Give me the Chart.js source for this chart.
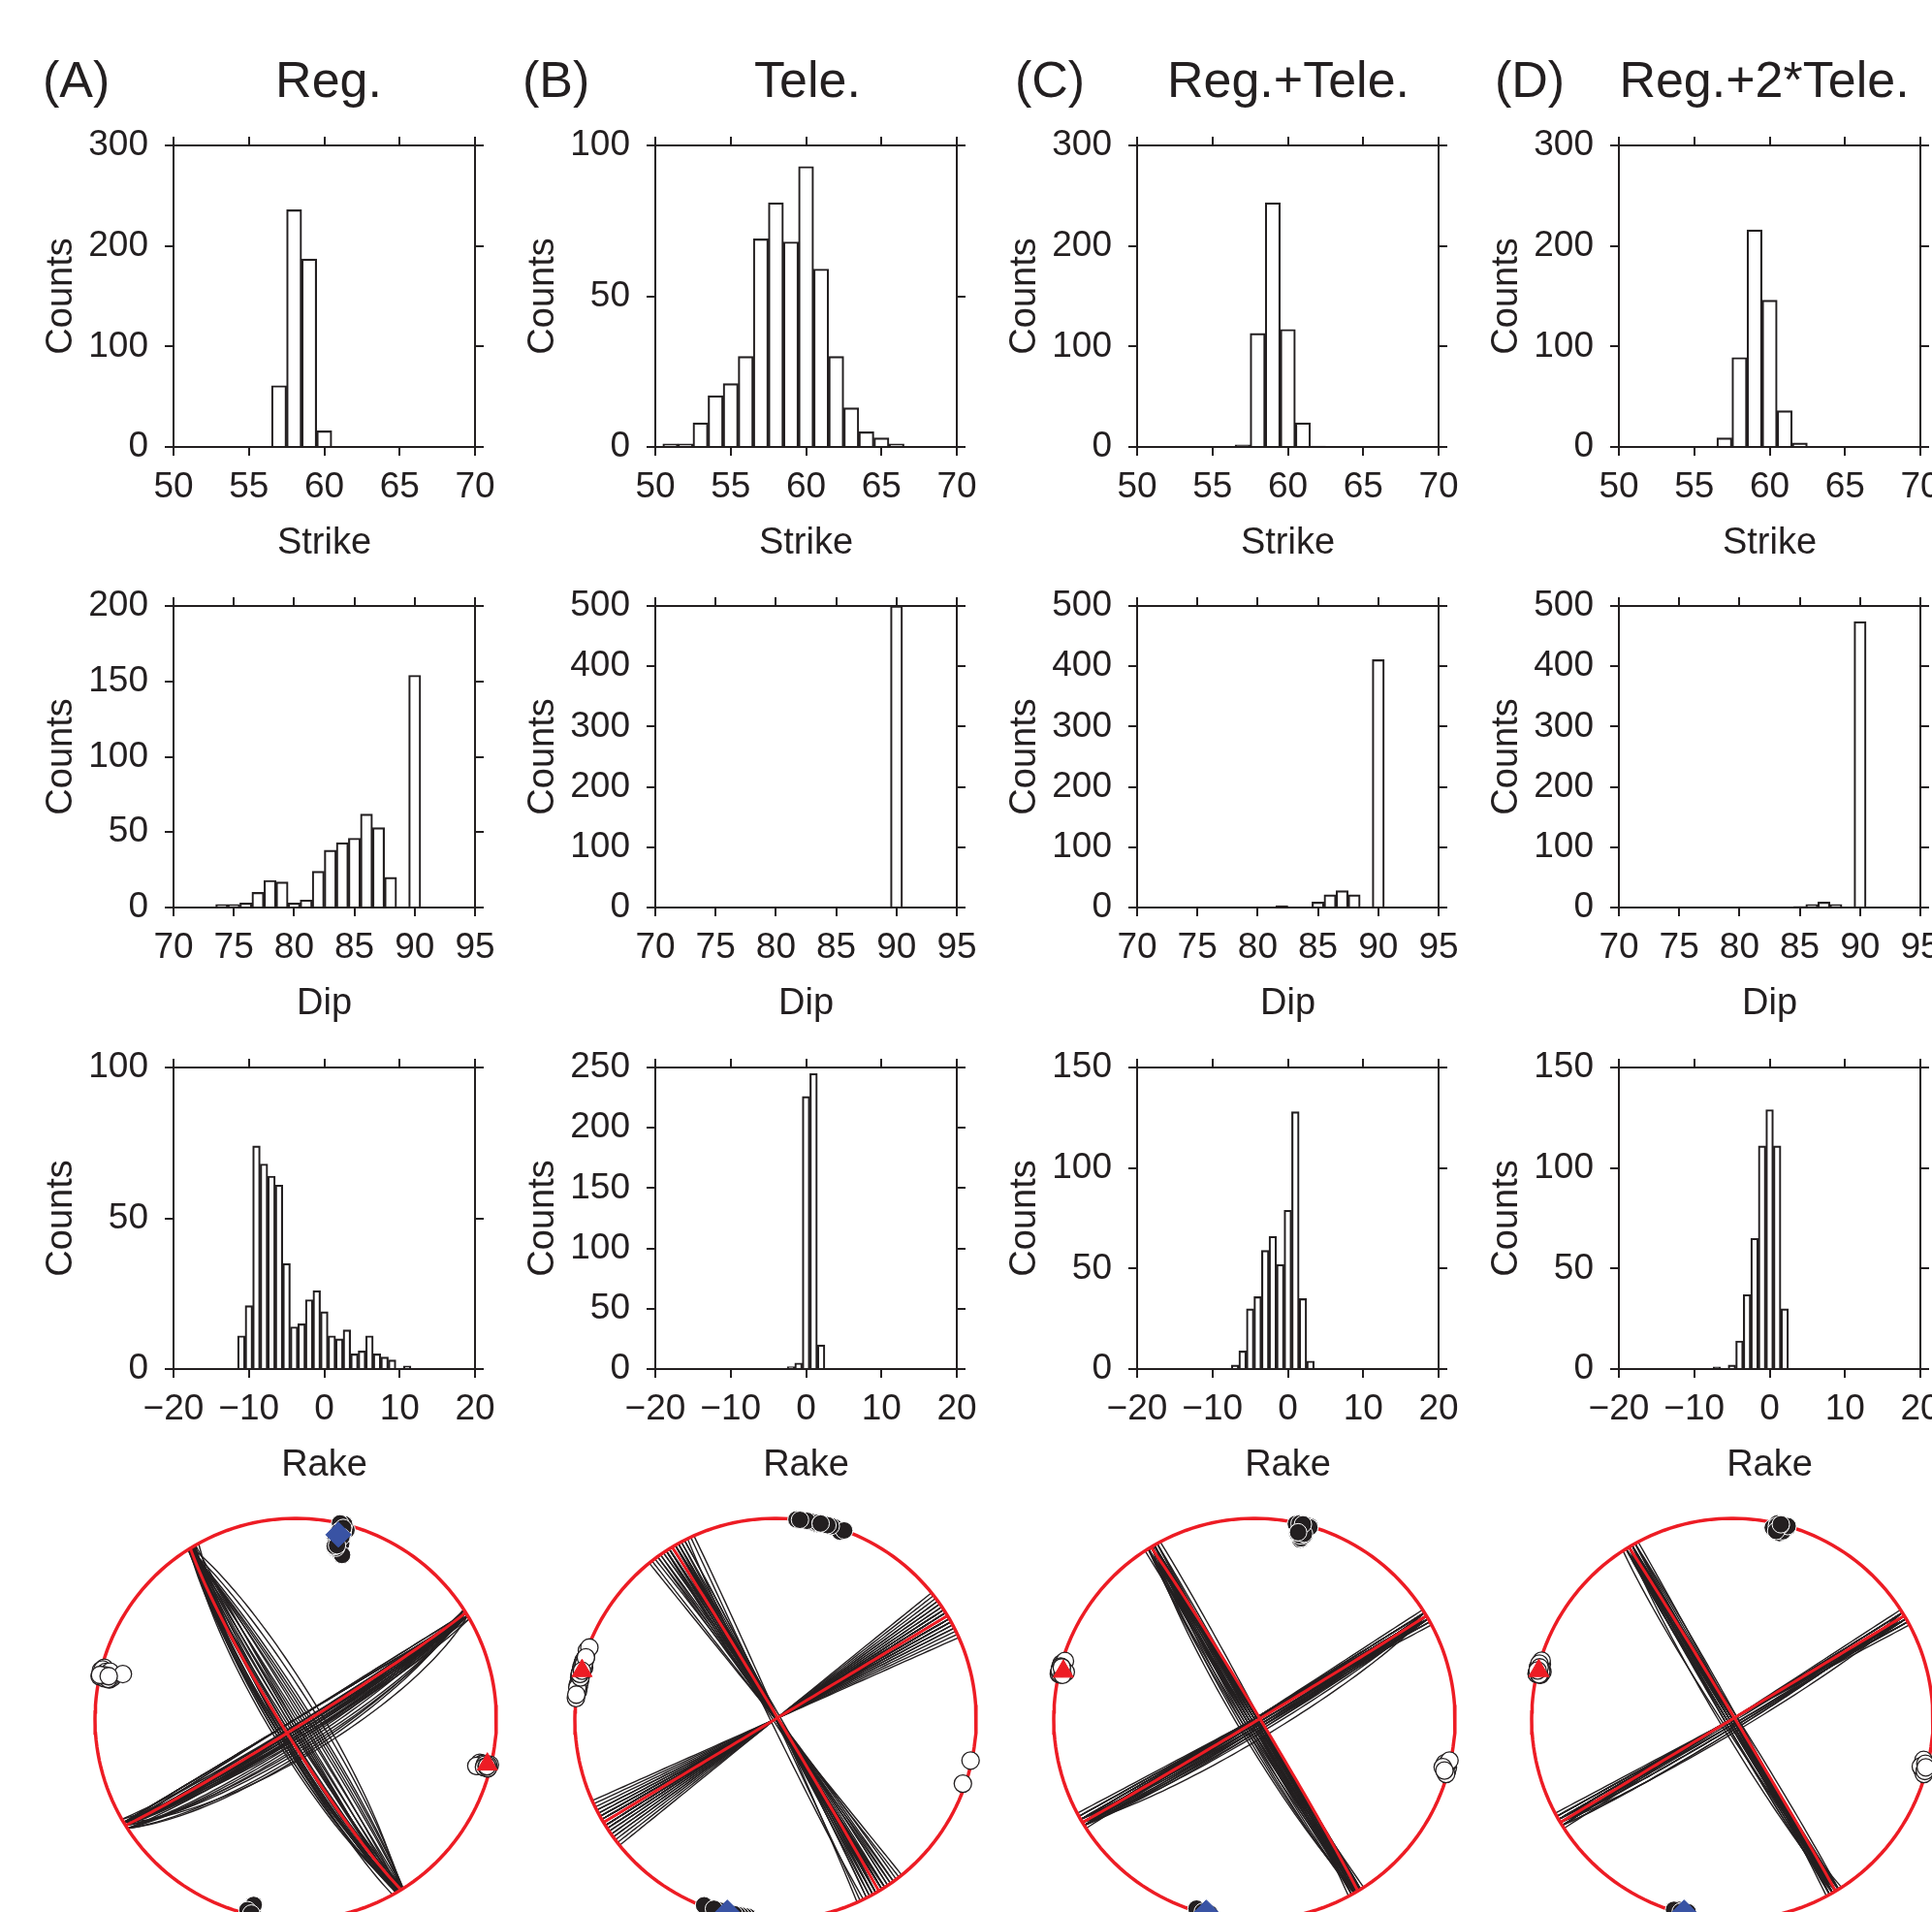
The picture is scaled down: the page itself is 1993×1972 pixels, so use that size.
<!DOCTYPE html>
<html>
<head>
<meta charset="utf-8">
<script src="https://cdn.jsdelivr.net/npm/chart.js@4.4.1/dist/chart.umd.min.js"></script>
<style>
  html, body { margin: 0; padding: 0; background: #fff; }
  #fig { position: relative; width: 1993px; height: 1972px; overflow: hidden; background: #fff;
         font-family: "Liberation Sans", Arial, Helvetica, sans-serif; color: #231f20; }
  #fig canvas { position: absolute; }
  .hdr { position: absolute; font-size: 52px; line-height: 1; white-space: nowrap; }
</style>
</head>
<body>
<div id="fig"></div>
<script>
// ---- histogram data (bin centres, counts) ----
const strikeBins = [51, 52, 53, 54, 55, 56, 57, 58, 59, 60, 61, 62, 63, 64, 65, 66];
const strikeReg      = [0, 0, 0, 0, 0, 0, 61, 236, 187, 16, 0, 0, 0, 0, 0, 0];
const strikeTele     = [1, 1, 8, 17, 21, 30, 69, 81, 68, 93, 59, 30, 13, 5, 3, 1];
const strikeRegTele  = [0, 0, 0, 0, 0, 0, 2, 113, 243, 117, 24, 1, 0, 0, 0, 0];
const strikeReg2Tele = [0, 0, 0, 0, 0, 0, 9, 89, 216, 146, 36, 4, 0, 0, 0, 0];

const dipBins = [74, 75, 76, 77, 78, 79, 80, 81, 82, 83, 84, 85, 86, 87, 88, 89, 90];
const dipReg      = [2, 2, 3, 10, 18, 17, 3, 5, 24, 38, 43, 46, 62, 53, 20, 0, 154];
const dipTele     = [0, 0, 0, 0, 0, 0, 0, 0, 0, 0, 0, 0, 0, 0, 0, 0, 500];
const dipRegTele  = [0, 0, 0, 0, 0, 0, 0, 0, 3, 1, 1, 9, 21, 28, 21, 0, 411];
const dipReg2Tele = [0, 0, 0, 0, 0, 0, 0, 0, 0, 0, 1, 2, 5, 9, 5, 0, 474];

const rakeBins = [-11, -10, -9, -8, -7, -6, -5, -4, -3, -2, -1, 0, 1, 2, 3, 4, 5, 6, 7, 8, 9, 10, 11];
const rakeReg      = [11, 21, 74, 68, 64, 61, 35, 14, 15, 23, 26, 19, 11, 10, 13, 5, 6, 11, 5, 4, 3, 0, 1];
const rakeTele     = [0, 0, 0, 0, 0, 0, 0, 0, 0, 2, 5, 226, 245, 20, 0, 0, 0, 0, 0, 0, 0, 0, 0];
const rakeRegTele  = [0, 0, 0, 0, 2, 9, 30, 36, 59, 66, 52, 79, 128, 35, 4, 0, 0, 0, 0, 0, 0, 0, 0];
const rakeReg2Tele = [0, 0, 0, 0, 1, 0, 2, 14, 37, 65, 111, 129, 111, 30, 0, 0, 0, 0, 0, 0, 0, 0, 0];

// y axis ranges [max, step]
const strikeY = [[300, 100], [100, 50], [300, 100], [300, 100]];
const dipY    = [[200, 50], [500, 100], [500, 100], [500, 100]];
const rakeY   = [[100, 50], [250, 50], [150, 50], [150, 50]];

// ---- focal mechanisms: best solution + sampled solutions ----
const bestStrike = [58, 59, 59, 59];
const bestDip    = [87, 90, 89, 90];
const bestRake   = [-6, 1, 2, 1];

const regStrikeS = [58,58,59,57,58,59,58,59,57,58,58,59,60,58,59,58,57,59,58,58,59,58,59,57,58,59,58,58,59,60,58,57,59,58,58,59,57,58,59,58];
const regDipS    = [90,86,85,84,88,83,87,90,82,86,78,85,87,79,90,84,76,83,86,88,90,85,82,80,87,84,90,86,75,83,86,77,88,85,84,90,81,87,86,83];
const regRakeS   = [-9,-8,-7,-6,-9,-5,-8,-10,-4,-3,-7,-2,-1,-9,0,1,-6,2,3,-8,-11,5,-7,-9,6,-2,8,-5,-8,10,-9,-6,-7,-1,-8,-3,-9,4,-6,-10];

const teleStrikeS = [51,53,54,55,56,57,57,58,58,59,59,60,60,60,61,61,62,62,63,64,65,66,55,57,58,59,60,61,56,54,57,58,59,60,60,61,52,63,58,59];
const teleDipS    = [90,90,90,90,90,90,90,90,90,90,90,90,90,90,90,90,90,90,90,90,90,90,90,90,90,90,90,90,90,90,90,90,90,90,90,90,90,90,90,90];
const teleRakeS   = [0,1,1,0,1,-1,0,1,0,1,0,1,0,2,1,0,1,0,1,-2,0,1,1,0,1,0,1,0,1,0,1,0,1,0,1,1,0,1,0,1];

const rtStrikeS = [58,59,59,60,58,59,60,61,59,58,59,60,59,58,60,59,61,59,58,60,59,57,59,60,62,59,58,60,59,59,58,60,59,61,58,59,60,59,58,60];
const rtDipS    = [90,90,90,90,86,90,87,90,88,90,85,90,90,87,90,86,90,88,90,90,84,90,87,90,90,82,90,86,90,88,90,87,90,90,86,90,88,90,85,90];
const rtRakeS   = [1,1,0,-1,-2,1,-3,0,1,-4,-2,1,-1,-5,0,-3,1,2,-2,1,-6,-1,0,1,2,-3,1,-4,1,-7,0,-2,1,-1,-3,1,-5,0,-2,1];

const r2tStrikeS = [59,59,60,58,59,60,59,61,58,60,59,59,60,58,61,59,60,59,57,60,62,59,58,60,59,59,61,58,60,59,60,59,58,59,60,61,59,58,60,59];
const r2tDipS    = [90,90,90,90,90,90,87,90,90,90,88,90,90,86,90,90,90,87,90,90,90,85,90,90,90,89,90,90,88,90,90,87,90,90,88,90,90,86,90,90];
const r2tRakeS   = [0,-1,1,0,-1,0,-2,1,-2,0,-3,1,0,-1,2,0,-1,1,-4,0,1,-2,0,-3,1,0,-1,2,0,-5,-1,0,-2,1,-3,0,-1,-2,1,0];

const panelTags   = ['(A)', '(B)', '(C)', '(D)'];
const panelTitles = ['Reg.', 'Tele.', 'Reg.+Tele.', 'Reg.+2*Tele.'];

// ---- layout ----
const ink = '#231f20', red = '#ed1c24', blue = '#3953a4';
const colLeft = [179, 676, 1173, 1670];
const rowTop = [150, 625, 1101];
const plotSize = 311;
const leftW = 179, rightW = 40, topH = 44, bottomH = 140;
const tagLeft = [44, 539, 1047, 1542];
const titleMid = [339, 833, 1329, 1820];
const ballX = [305, 800, 1294, 1787], ballY = 1773, ballR = 207;

Chart.defaults.font.family = '"Liberation Sans", Arial, Helvetica, sans-serif';
Chart.defaults.color = ink;

const fig = document.getElementById('fig');

panelTags.forEach((t, i) => {
  const a = document.createElement('div');
  a.className = 'hdr'; a.textContent = t;
  a.style.left = tagLeft[i] + 'px'; a.style.top = '56px';
  fig.appendChild(a);
  const b = document.createElement('div');
  b.className = 'hdr'; b.textContent = panelTitles[i];
  b.style.left = titleMid[i] + 'px'; b.style.top = '56px'; b.style.transform = 'translateX(-50%)';
  fig.appendChild(b);
});

const grid = () => ({ drawOnChartArea: false, drawTicks: true, tickLength: 9, color: ink, lineWidth: 2, offset: false });
const border = () => ({ display: true, color: ink, width: 2 });
const minus = v => String(v).replace('-', '\u2212');

function histogram(col, row, bins, counts, xr, yr, xTitle) {
  const cv = document.createElement('canvas');
  cv.width = leftW + plotSize + rightW;
  cv.height = topH + plotSize + bottomH;
  cv.style.left = (colLeft[col] - leftW) + 'px';
  cv.style.top = (rowTop[row] - topH) + 'px';
  fig.appendChild(cv);
  new Chart(cv, {
    type: 'bar',
    data: {
      datasets: [{
        data: bins.map((b, i) => ({ x: b, y: counts[i] })),
        backgroundColor: 'rgba(255,255,255,0)',
        borderColor: ink,
        borderWidth: 1.5,
        borderSkipped: 'start',
        barPercentage: 1,
        categoryPercentage: 1
      }]
    },
    options: {
      responsive: false, animation: false, devicePixelRatio: 1,
      layout: { padding: 0, autoPadding: false },
      plugins: { legend: { display: false }, tooltip: { enabled: false } },
      scales: {
        x: {
          type: 'linear', position: 'bottom', min: xr[0], max: xr[1], offset: false,
          ticks: { stepSize: xr[2], font: { size: 37 }, color: ink, padding: 11, maxRotation: 0, autoSkip: false, callback: minus },
          grid: grid(), border: border(),
          title: { display: true, text: xTitle, font: { size: 38 }, color: ink, padding: { top: 0, bottom: 18 } },
          afterFit: s => { s.height = bottomH; }
        },
        x2: {
          type: 'linear', position: 'top', min: xr[0], max: xr[1], offset: false,
          ticks: { stepSize: xr[2], display: false },
          grid: grid(), border: border(),
          afterFit: s => { s.height = topH; }
        },
        y: {
          type: 'linear', position: 'left', min: 0, max: yr[0],
          ticks: { stepSize: yr[1], font: { size: 37 }, color: ink, padding: 17 },
          grid: grid(), border: border(),
          title: { display: true, text: 'Counts', font: { size: 38 }, color: ink, padding: { top: 41, bottom: 0 } },
          afterFit: s => { s.width = leftW; }
        },
        y2: {
          type: 'linear', position: 'right', min: 0, max: yr[0],
          ticks: { stepSize: yr[1], display: false },
          grid: grid(), border: border(),
          afterFit: s => { s.width = rightW; }
        }
      }
    }
  });
}

const strikeSets = [strikeReg, strikeTele, strikeRegTele, strikeReg2Tele];
const dipSets = [dipReg, dipTele, dipRegTele, dipReg2Tele];
const rakeSets = [rakeReg, rakeTele, rakeRegTele, rakeReg2Tele];
for (let c = 0; c < 4; c++) {
  histogram(c, 0, strikeBins, strikeSets[c], [50, 70, 5], strikeY[c], 'Strike');
  histogram(c, 1, dipBins, dipSets[c], [70, 95, 5], dipY[c], 'Dip');
  histogram(c, 2, rakeBins, rakeSets[c], [-20, 20, 10], rakeY[c], 'Rake');
}

// ---- beach balls (lower hemisphere, equal area) ----
const DEG = Math.PI / 180;
function proj(v) {
  if (v[2] < 0) v = v.map(a => -a);
  const p = Math.asin(Math.min(1, v[2]));
  const az = Math.atan2(v[1], v[0]);
  const r = Math.SQRT2 * Math.sin((Math.PI / 2 - p) / 2);
  return { x: r * Math.sin(az), y: r * Math.cos(az) };
}
function planeTrace(str, dip) {
  const f = str * DEG, d = dip * DEG;
  const s = [Math.cos(f), Math.sin(f), 0];
  const dv = [-Math.cos(d) * Math.sin(f), Math.cos(d) * Math.cos(f), Math.sin(d)];
  const pts = [];
  for (let t = 0; t <= 180; t += 3) {
    const c = Math.cos(t * DEG), sn = Math.sin(t * DEG);
    pts.push(proj([c * s[0] + sn * dv[0], c * s[1] + sn * dv[1], c * s[2] + sn * dv[2]]));
  }
  return pts;
}
function mechanism(str, dip, rake) {
  const f = str * DEG, d = dip * DEG, l = rake * DEG;
  const n = [-Math.sin(d) * Math.sin(f), Math.sin(d) * Math.cos(f), -Math.cos(d)];
  const u = [Math.cos(l) * Math.cos(f) + Math.cos(d) * Math.sin(l) * Math.sin(f),
             Math.cos(l) * Math.sin(f) - Math.cos(d) * Math.sin(l) * Math.cos(f),
             -Math.sin(l) * Math.sin(d)];
  let m = u.slice();
  if (m[2] > 0) m = m.map(a => -a);
  const dip2 = Math.acos(Math.max(-1, Math.min(1, -m[2]))) / DEG;
  const str2 = Math.atan2(-m[0], m[1]) / DEG;
  const T = [n[0] + u[0], n[1] + u[1], n[2] + u[2]].map(a => a / Math.SQRT2);
  const P = [n[0] - u[0], n[1] - u[1], n[2] - u[2]].map(a => a / Math.SQRT2);
  return { planes: [planeTrace(str, dip), planeTrace(str2, dip2)], P: proj(P), T: proj(T) };
}

const sampleSets = [
  [regStrikeS, regDipS, regRakeS],
  [teleStrikeS, teleDipS, teleRakeS],
  [rtStrikeS, rtDipS, rtRakeS],
  [r2tStrikeS, r2tDipS, r2tRakeS]
];

function beachball(col) {
  const S = 470, half = S / 2 / ballR;
  const cv = document.createElement('canvas');
  cv.width = S; cv.height = S;
  cv.style.left = (ballX[col] - S / 2) + 'px';
  cv.style.top = (ballY - S / 2) + 'px';
  fig.appendChild(cv);

  const [ss, dd, rr] = sampleSets[col];
  const datasets = [];
  const pAxes = [], tAxes = [];
  ss.forEach((s, i) => {
    const m = mechanism(s, dd[i], rr[i]);
    m.planes.forEach(pl => datasets.push({ data: pl, showLine: true, pointRadius: 0, borderColor: ink, borderWidth: 1.4, order: 4 }));
    pAxes.push(m.P); tAxes.push(m.T);
  });
  const best = mechanism(bestStrike[col], bestDip[col], bestRake[col]);
  best.planes.forEach(pl => datasets.push({ data: pl, showLine: true, pointRadius: 0, borderColor: red, borderWidth: 3, order: 3 }));
  const rim = [];
  for (let a = 0; a <= 360; a += 2) rim.push({ x: Math.sin(a * DEG), y: Math.cos(a * DEG) });
  datasets.push({ data: rim, showLine: true, pointRadius: 0, borderColor: red, borderWidth: 3.5, order: 2 });
  datasets.push({ data: tAxes, showLine: false, pointRadius: 9, pointStyle: 'circle', backgroundColor: '#fff', borderColor: ink, borderWidth: 1.3, order: 1 });
  datasets.push({ data: pAxes, showLine: false, pointRadius: 9, pointStyle: 'circle', backgroundColor: ink, borderColor: '#fff', borderWidth: 1, order: 1 });
  datasets.push({ data: [best.P], showLine: false, pointRadius: 13, pointStyle: 'rectRot', backgroundColor: blue, borderColor: blue, borderWidth: 1, order: 0 });
  datasets.push({ data: [best.T], showLine: false, pointRadius: 12, pointStyle: 'triangle', backgroundColor: red, borderColor: red, borderWidth: 1, order: 0 });

  new Chart(cv, {
    type: 'scatter',
    data: { datasets },
    options: {
      responsive: false, animation: false, devicePixelRatio: 1,
      layout: { padding: 0, autoPadding: false },
      plugins: { legend: { display: false }, tooltip: { enabled: false } },
      scales: {
        x: { type: 'linear', min: -half, max: half, display: false },
        y: { type: 'linear', min: -half, max: half, display: false }
      }
    }
  });
}
for (let c = 0; c < 4; c++) beachball(c);
</script>
</body>
</html>
